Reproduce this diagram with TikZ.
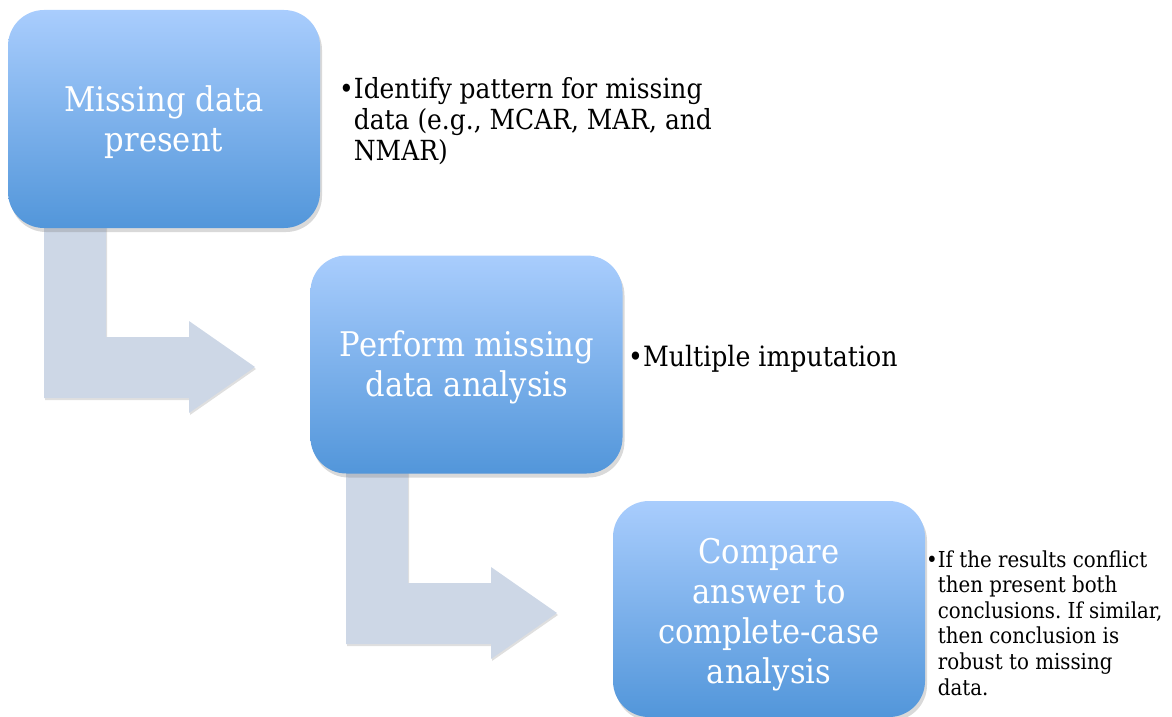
\documentclass[tikz,border=0pt]{standalone}
\usepackage{fontspec}
\setmainfont{DejaVu Serif}[FakeStretch=0.9]
\usetikzlibrary{shadows}
\frenchspacing
\definecolor{boxtop}{RGB}{169,205,253}
\definecolor{boxbot}{RGB}{82,150,218}
\definecolor{arrowfill}{RGB}{205,215,230}
\tikzset{
  stepbox/.style={rounded corners=36pt, minimum width=312pt, minimum height=218pt,
    top color=boxtop, bottom color=boxbot, draw=none,
    drop shadow={shadow xshift=2pt, shadow yshift=-4pt, opacity=0.3}},
  steptext/.style={text=white, align=center, inner sep=0pt,
    font=\fontsize{34}{40}\selectfont},
  note/.style={anchor=base west, inner sep=0pt, text=black},
  pics/bentarrow/.style={code={
    \fill[arrowfill, drop shadow={shadow xshift=1pt, shadow yshift=-2pt, opacity=0.25}]
      (0,-10) -- (62,-10) -- (62,109) -- (145,109) -- (145,93) -- (211,139)
      -- (145,185) -- (145,170) -- (0,170) -- cycle;}}
}
\begin{document}
\begin{tikzpicture}[x=1pt,y=-1pt]
\useasboundingbox (0,0) rectangle (1172,717);
\clip (0,0) rectangle (1172,717);
\pic at (44,228) {bentarrow};
\pic at (346,474) {bentarrow};
\node[stepbox] (b1) at (164,119) {};
\node[stepbox] (b2) at (466.5,364.5) {};
\node[stepbox, minimum height=216pt] (b3) at (769,609) {};
\node[steptext] (t1) at (164,122) {Missing data\\present};
\node[steptext] (t2) at (467,367.5) {Perform missing\\data analysis};
\node[steptext] (t3) at (769,615) {Compare\\answer to\\complete-case\\analysis};
\node[note, font=\fontsize{27.7}{31}\selectfont] (n1) at (339,99)
  {\begin{tabular}[t]{@{}l@{}l@{}}\textbullet&Identify pattern for missing\\&data (e.g., MCAR, MAR, and\\&NMAR)\end{tabular}};
\node[note, font=\fontsize{28}{32}\selectfont] (n2) at (628,366)
  {\textbullet Multiple imputation};
\node[note, font=\fontsize{22}{25.6}\selectfont] (n3) at (926,567)
  {\begin{tabular}[t]{@{}l@{}l@{}}\textbullet&If the results conflict\\&then present both\\&conclusions. If similar,\\&then conclusion is\\&robust to missing\\&data.\end{tabular}};
\end{tikzpicture}
\end{document}
